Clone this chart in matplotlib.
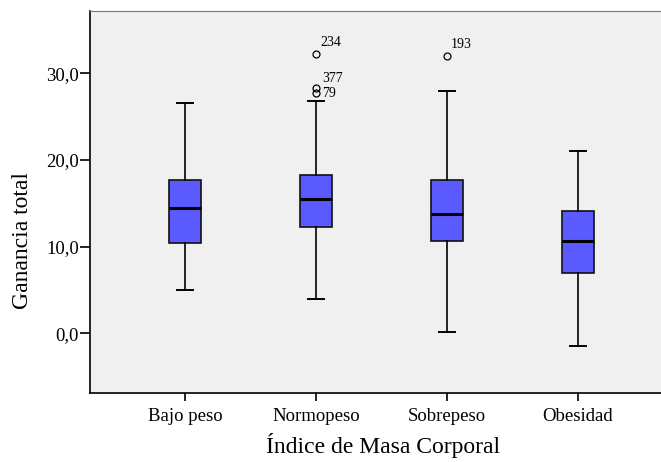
import matplotlib.pyplot as plt

categorias = ['Bajo peso', 'Normopeso', 'Sobrepeso', 'Obesidad']
mediana = [14.5, 15.5, 13.75, 10.6]
q1 = [10.35, 12.3, 10.65, 6.9]
q3 = [17.7, 18.25, 17.7, 14.05]
bigote_inf = [5.0, 4.0, 0.1, -1.45]
bigote_sup = [26.6, 26.8, 27.95, 21.0]
atipicos = [[], [32.2, 28.3, 27.7], [32.0], []]
etiquetas_atip = [[], ['234', '377', '79'], ['193'], []]

plt.rcParams['font.family'] = ['Liberation Serif', 'DejaVu Serif']

fig = plt.figure(figsize=(6.61, 4.62), dpi=100)
ax = fig.add_axes([90/661, 69/462, 571/661, 382/462])
ax.set_facecolor('#f0f0f0')

stats = []
for i, c in enumerate(categorias):
    stats.append(dict(label=c, med=mediana[i], q1=q1[i], q3=q3[i],
                      whislo=bigote_inf[i], whishi=bigote_sup[i],
                      fliers=atipicos[i]))

pos = [1, 2, 3, 4]
ax.bxp(stats, positions=pos, widths=0.25, patch_artist=True,
       boxprops=dict(facecolor='#5a5aff', edgecolor='#111111', linewidth=1.2),
       medianprops=dict(color='black', linewidth=2.2),
       whiskerprops=dict(color='black', linewidth=1.2),
       capprops=dict(color='black', linewidth=1.4),
       capwidths=0.125,
       flierprops=dict(marker='o', markersize=5, markerfacecolor='none',
                       markeredgecolor='black', markeredgewidth=0.9))

# etiquetas de casos atípicos (desplazamiento en puntos)
desp = {'234': (3, 8.5), '377': (4.3, 6.5), '79': (4.3, 0), '193': (3, 8.5)}
for i, vals in enumerate(atipicos):
    for v, t in zip(vals, etiquetas_atip[i]):
        ax.annotate(t, (pos[i], v), xytext=desp[t], textcoords='offset points',
                    fontsize=10, va='center', ha='left')

ax.set_xlim(0.275, 4.634)
ax.set_ylim(-6.9, 37.17)
ax.set_yticks([0, 10, 20, 30])
ax.set_yticklabels(['0,0', '10,0', '20,0', '30,0'])
ax.set_xticks(pos)
ax.set_xticklabels(categorias)
ax.tick_params(axis='y', length=7, width=1.2, labelsize=13.5, pad=1)
ax.tick_params(axis='x', length=6, width=1.2, labelsize=13.5, pad=5)

ax.spines['right'].set_visible(False)
ax.spines['top'].set_color('#777777')
ax.spines['left'].set_linewidth(1.2)
ax.spines['bottom'].set_linewidth(1.2)

ax.set_xlabel('Índice de Masa Corporal', fontsize=17)
ax.set_ylabel('Ganancia total', fontsize=17)
ax.xaxis.set_label_coords(0.513, -0.105)
ax.yaxis.set_label_coords(-0.119, 0.398)
ax.yaxis.label.set_verticalalignment('center')

fig.savefig('out.png', dpi=100)
